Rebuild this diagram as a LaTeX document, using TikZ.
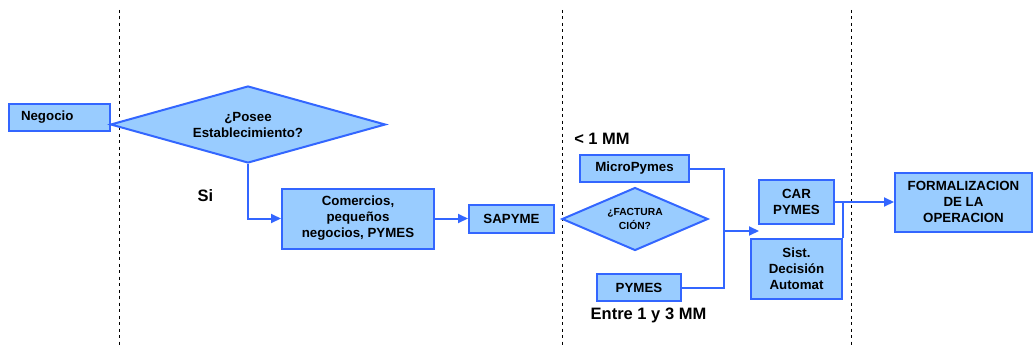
\documentclass[tikz,border=0pt]{standalone}
\usepackage{fontspec}
\setmainfont{Liberation Sans}
\usetikzlibrary{shapes.geometric,arrows.meta}
\definecolor{boxfill}{RGB}{153,204,255}
\definecolor{boxline}{RGB}{51,102,255}
\begin{document}
\begin{tikzpicture}[x=1pt,y=-1pt,
  every node/.style={font=\bfseries\fontsize{13.3}{16}\selectfont},
  blk/.style={draw=boxline,fill=boxfill,line width=2pt,inner sep=0pt,align=center},
  dia/.style={diamond,draw=boxline,fill=boxfill,line width=2pt,inner sep=0pt,align=center},
  conn/.style={draw=boxline,line width=2pt},
  arr/.style={conn,-{Triangle[length=10pt,width=9pt]}},
  sep/.style={draw=black,line width=1pt,dash pattern=on 3pt off 3.5pt},
  lbl/.style={font=\bfseries\fontsize{16.5}{19}\selectfont}
]
\useasboundingbox (0,0) rectangle (1035,353);
% separators
\draw[sep] (119.5,10) -- (119.5,348);
\draw[sep] (562.5,10) -- (562.5,348);
\draw[sep] (851.5,10) -- (851.5,348);
% nodes
\node[blk,minimum width=101pt,minimum height=27pt,text width=77pt,inner xsep=12pt,align=left] (neg) at (59.5,117.5) {Negocio};
\node[dia,aspect=3.57,minimum width=275pt,minimum height=77pt] (pos) at (248,124.5) {¿Posee\\Establecimiento?};
\node[blk,minimum width=152pt,minimum height=60pt] (com) at (358,218.5) {Comercios,\\pequeños\\negocios, PYMES};
\node[blk,minimum width=85pt,minimum height=28pt] (sap) at (511.5,218.5) {SAPYME};
\node[dia,aspect=2.32,minimum width=146pt,minimum height=63pt,font=\bfseries\fontsize{10.3}{14}\selectfont] (fac) at (635,219) {¿FACTURA\\CIÓN?};
\node[blk,minimum width=109pt,minimum height=27pt] (mic) at (634.5,168.5) {MicroPymes};
\node[blk,minimum width=84pt,minimum height=27pt] (pym) at (639,287.5) {PYMES};
\node[blk,minimum width=75pt,minimum height=44pt] (car) at (796.5,202) {CAR\\PYMES};
\node[blk,minimum width=91pt,minimum height=60pt] (sis) at (796.5,269) {Sist.\\Decisión\\Automat};
\node[blk,minimum width=137pt,minimum height=59pt] (for) at (963.5,202) {FORMALIZACION\\DE LA\\OPERACION};
% labels
\node[lbl] (si) at (205.5,196) {Si};
\node[lbl] (lt) at (602,139) {< 1 MM};
\node[lbl] (en) at (648.5,315) {Entre 1 y 3 MM};
% connectors
\draw[arr] (pos.south) |- (com.west);
\draw[arr] (com.east) -- (sap.west);
\coordinate (j) at (724,231);
\coordinate (tip) at (759,231);
\draw[conn] (mic.east) -| (j) |- (pym.east);
\draw[arr] (j) -- (tip);
\draw[arr] (car.east) -- (for.west);
\draw[conn] (sis.north east) -- (sis.north east |- car.east);
\end{tikzpicture}
\end{document}
